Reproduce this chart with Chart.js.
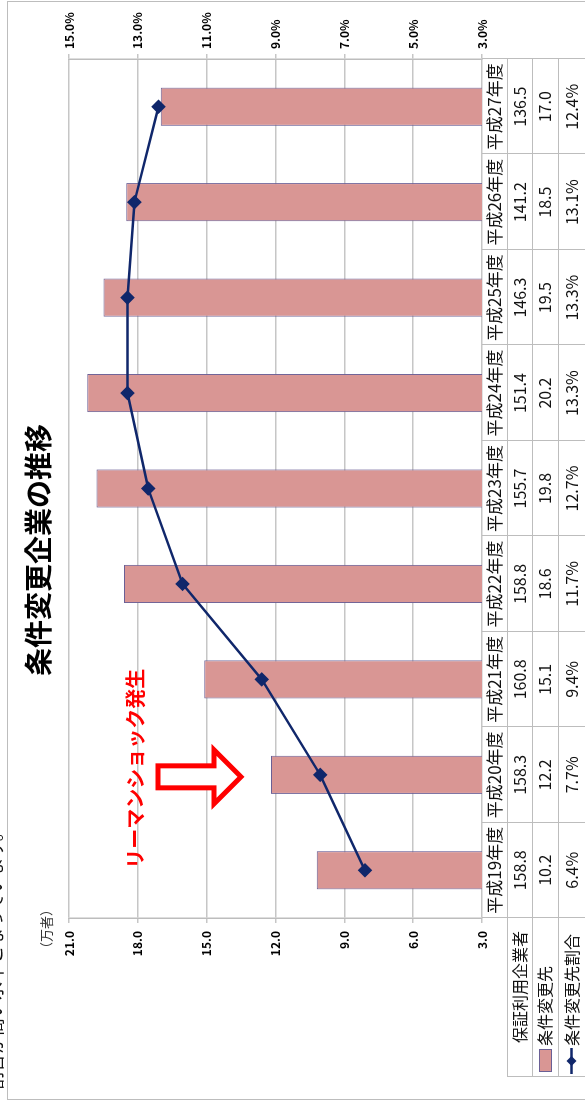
<!DOCTYPE html>
<html lang="ja">
<head>
<meta charset="utf-8">
<script src="https://cdn.jsdelivr.net/npm/chart.js@4/dist/chart.umd.min.js"></script>
<style>
html, body { margin: 0; padding: 0; background: #fff; overflow: hidden; }
#page {
	position: absolute; left: 0; top: 0;
	width: 1109px; height: 585px;
	transform-origin: 0 0;
	transform: translate(0, 1109px) rotate(-90deg);
	background: #fff; overflow: hidden;
}
#page canvas { position: absolute; left: 0; top: 0; }
#note {
	position: absolute; left: 19px; top: -19px; z-index: 2;
	font: 18px "Noto Sans CJK JP", sans-serif; white-space: nowrap; color: #111;
}
</style>
</head>
<body>
<div id="page">
	<canvas id="myChart" width="1109" height="585"></canvas>
	<div id="note">割合が高い水準となっています。</div>
</div>
<script>
// chart values
var years   = ['平成19年度', '平成20年度', '平成21年度', '平成22年度', '平成23年度',
               '平成24年度', '平成25年度', '平成26年度', '平成27年度'];
var users   = [158.8, 158.3, 160.8, 158.8, 155.7, 151.4, 146.3, 141.2, 136.5];  // 保証利用企業者
var changed = [10.2, 12.2, 15.1, 18.6, 19.8, 20.2, 19.5, 18.5, 17.0];           // 条件変更先
var ratio   = [6.4, 7.7, 9.4, 11.7, 12.7, 13.3, 13.3, 13.1, 12.4];              // 条件変更先割合 (%)
var rowNames = ['保証利用企業者', '条件変更先', '条件変更先割合'];

var title = '条件変更企業の推移';
var unit  = '（万者）';
var note  = 'リーマンショック発生';

var barFill   = '#d99694';
var barBorder = '#6a5f95';
var lineColor = '#10276b';
var gridColor = '#c6c6c6';
var jp = '"Noto Sans CJK JP", "Noto Sans", sans-serif';

Chart.defaults.font.family = jp;
Chart.defaults.color = '#000';

var extras = {
	id: 'extras',
	beforeDraw: function(chart) {
		var c = chart.ctx;
		c.save();
		c.fillStyle = '#fff';
		c.fillRect(0, 0, chart.width, chart.height);
		c.strokeStyle = '#bdbdbd';
		c.lineWidth = 1;
		c.strokeRect(9.5, 7.5, 1098, 620);
		c.restore();
	},
	afterDraw: function(chart) {
		var c = chart.ctx;
		var area = chart.chartArea;
		var x = chart.scales.x;
		var colW = (area.right - area.left) / years.length;
		var rows = [area.bottom, area.bottom + 25, area.bottom + 50, area.bottom + 76, area.bottom + 103];
		var headLeft = 32;

		c.save();

		// title
		c.fillStyle = '#000';
		c.font = 'bold 28px ' + jp;
		c.textAlign = 'center';
		c.textBaseline = 'middle';
		c.fillText(title, 559, 38);

		// unit label
		c.font = '13px ' + jp;
		c.fillStyle = '#333';
		c.fillText(unit, 180, 46);

		// data table lines
		c.strokeStyle = '#bdbdbd';
		c.lineWidth = 1;
		c.beginPath();
		for (var i = 0; i <= years.length; i++) {
			var bx = Math.round(area.left + i * colW) + 0.5;
			c.moveTo(bx, rows[0]);
			c.lineTo(bx, rows[4]);
		}
		for (var r = 1; r < 4; r++) {
			c.moveTo(headLeft, Math.round(rows[r]) + 0.5);
			c.lineTo(area.right, Math.round(rows[r]) + 0.5);
		}
		c.moveTo(headLeft + 0.5, rows[1]);
		c.lineTo(headLeft + 0.5, rows[4]);
		c.stroke();

		// table text
		c.fillStyle = '#111';
		c.textAlign = 'center';
		c.textBaseline = 'middle';
		var table = [
			years,
			users.map(function(v) { return v.toFixed(1); }),
			changed.map(function(v) { return v.toFixed(1); }),
			ratio.map(function(v) { return v.toFixed(1) + '%'; })
		];
		for (var r = 0; r < table.length; r++) {
			c.font = (r == 0 ? '17px ' : '16px ') + jp;
			var cy = (rows[r] + rows[r + 1]) / 2;
			for (var i = 0; i < years.length; i++) {
				c.fillText(table[r][i], x.getPixelForValue(i), cy);
			}
		}

		// row headers with legend keys
		c.textAlign = 'left';
		c.font = '16px ' + jp;
		c.fillText(rowNames[0], 66, (rows[1] + rows[2]) / 2);
		c.fillText(rowNames[1], 63, (rows[2] + rows[3]) / 2);
		c.fillText(rowNames[2], 63, (rows[3] + rows[4]) / 2);

		var ky = (rows[2] + rows[3]) / 2;
		c.fillStyle = barFill;
		c.strokeStyle = barBorder;
		c.lineWidth = 1;
		c.fillRect(37, ky - 6, 22, 12);
		c.strokeRect(37.5, ky - 5.5, 22, 12);

		ky = (rows[3] + rows[4]) / 2;
		c.strokeStyle = lineColor;
		c.lineWidth = 2.5;
		c.beginPath();
		c.moveTo(35, ky);
		c.lineTo(61, ky);
		c.stroke();
		c.fillStyle = lineColor;
		c.beginPath();
		c.moveTo(48, ky - 5);
		c.lineTo(53, ky);
		c.lineTo(48, ky + 5);
		c.lineTo(43, ky);
		c.closePath();
		c.fill();

		// annotation: Lehman shock arrow
		var ax = x.getPixelForValue(1) - 2;
		c.fillStyle = '#ff0000';
		c.textAlign = 'center';
		c.font = 'bold 20px ' + jp;
		c.fillText(note, ax + 8, 135);

		c.beginPath();
		c.moveTo(ax - 11, 158);
		c.lineTo(ax + 11, 158);
		c.lineTo(ax + 11, 214);
		c.lineTo(ax + 27, 214);
		c.lineTo(ax, 241);
		c.lineTo(ax - 27, 214);
		c.lineTo(ax - 11, 214);
		c.closePath();
		c.fillStyle = '#fff';
		c.fill();
		c.strokeStyle = '#ff0000';
		c.lineWidth = 5;
		c.lineJoin = 'miter';
		c.stroke();

		c.restore();
	}
};

var ctx = document.getElementById('myChart');
var myChart = new Chart(ctx, {
	type: 'bar',
	data: {
		labels: years,
		datasets: [
			{
				type: 'line',
				label: rowNames[2],
				data: ratio,
				yAxisID: 'y1',
				order: 0,
				borderColor: lineColor,
				backgroundColor: lineColor,
				borderWidth: 2.5,
				tension: 0,
				pointStyle: 'rectRot',
				pointRadius: 5.5,
				pointBackgroundColor: lineColor,
				pointBorderColor: lineColor
			},
			{
				label: rowNames[1],
				data: changed,
				yAxisID: 'y',
				order: 1,
				backgroundColor: barFill,
				borderColor: barBorder,
				borderWidth: 1,
				barPercentage: 0.4,
				categoryPercentage: 1.0
			}
		]
	},
	options: {
		responsive: false,
		animation: false,
		layout: { padding: { top: 69, bottom: 103, left: 0, right: 0 } },
		plugins: {
			legend: { display: false },
			title: { display: false },
			tooltip: { enabled: false }
		},
		scales: {
			x: { display: false },
			y: {
				position: 'left',
				min: 3, max: 21,
				afterFit: function(scale) { scale.width = 191; },
				ticks: {
					stepSize: 3,
					padding: 8,
					font: { size: 12, weight: 'bold' },
					callback: function(v) { return v.toFixed(1); }
				},
				grid: { color: gridColor, lineWidth: 1.5, tickLength: 5 },
				border: { color: '#bdbdbd', width: 1.5 }
			},
			y1: {
				position: 'right',
				min: 3, max: 15,
				afterFit: function(scale) { scale.width = 59; },
				ticks: {
					stepSize: 2,
					padding: 5,
					font: { size: 12, weight: 'bold' },
					callback: function(v) { return v.toFixed(1) + '%'; }
				},
				grid: { drawOnChartArea: false, color: gridColor, lineWidth: 1.5, tickLength: 5 },
				border: { color: '#bdbdbd', width: 1.5 }
			}
		}
	},
	plugins: [extras]
});
</script>
</body>
</html>
